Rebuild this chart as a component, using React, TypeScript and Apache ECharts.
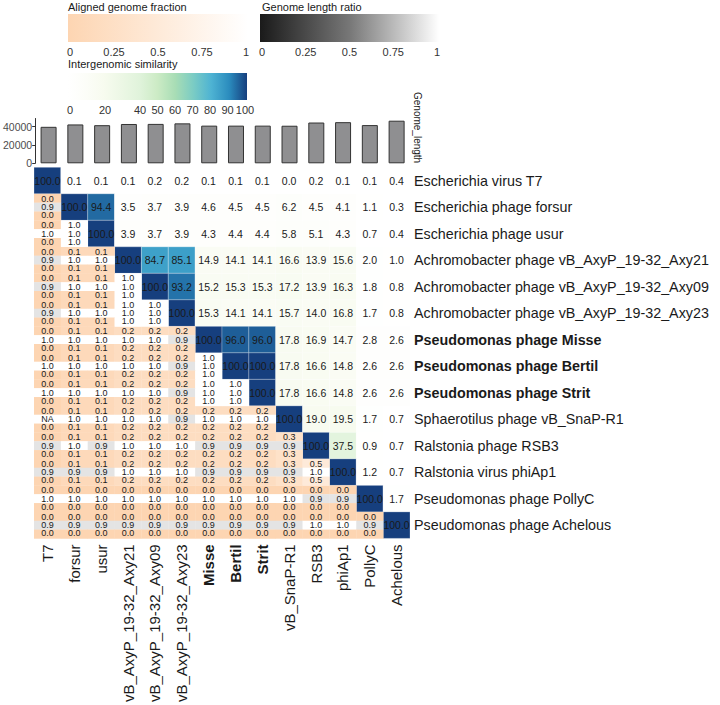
import React, { useEffect, useRef } from "react";
import * as echarts from "echarts";

const FONT = '"Liberation Sans", Arial, Helvetica, sans-serif';

const shortNames = [
  "T7", "forsur", "usur", "vB_AxyP_19-32_Axy21", "vB_AxyP_19-32_Axy09", "vB_AxyP_19-32_Axy23",
  "Misse", "Bertil", "Strit", "vB_SnaP-R1", "RSB3", "phiAp1", "PollyC", "Achelous",
];
const fullNames = [
  "Escherichia virus T7",
  "Escherichia phage forsur",
  "Escherichia phage usur",
  "Achromobacter phage vB_AxyP_19-32_Axy21",
  "Achromobacter phage vB_AxyP_19-32_Axy09",
  "Achromobacter phage vB_AxyP_19-32_Axy23",
  "Pseudomonas phage Misse",
  "Pseudomonas phage Bertil",
  "Pseudomonas phage Strit",
  "Sphaerotilus phage vB_SnaP-R1",
  "Ralstonia phage RSB3",
  "Ralstonia virus phiAp1",
  "Pseudomonas phage PollyC",
  "Pseudomonas phage Achelous",
];
const boldIndices = [6, 7, 8];

const genomeLength = [39900, 42500, 41700, 43000, 43100, 43700, 41200, 41200, 41200, 41100, 44600, 45000, 41800, 46600];

// upper triangle (incl. diagonal): row r holds columns r..13
const similarity: number[][] = [
  [100.0, 0.1, 0.1, 0.1, 0.2, 0.2, 0.1, 0.1, 0.1, 0.0, 0.2, 0.1, 0.1, 0.4],
  [100.0, 94.4, 3.5, 3.7, 3.9, 4.6, 4.5, 4.5, 6.2, 4.5, 4.1, 1.1, 0.3],
  [100.0, 3.9, 3.7, 3.9, 4.3, 4.4, 4.4, 5.8, 5.1, 4.3, 0.7, 0.4],
  [100.0, 84.7, 85.1, 14.9, 14.1, 14.1, 16.6, 13.9, 15.6, 2.0, 1.0],
  [100.0, 93.2, 15.2, 15.3, 15.3, 17.2, 13.9, 16.3, 1.8, 0.8],
  [100.0, 15.3, 14.1, 14.1, 15.7, 14.0, 16.8, 1.7, 0.8],
  [100.0, 96.0, 96.0, 17.8, 16.9, 14.7, 2.8, 2.6],
  [100.0, 100.0, 17.8, 16.6, 14.8, 2.6, 2.6],
  [100.0, 17.8, 16.6, 14.8, 2.6, 2.6],
  [100.0, 19.0, 19.5, 1.7, 0.7],
  [100.0, 37.5, 0.9, 0.7],
  [100.0, 1.2, 0.7],
  [100.0, 1.7],
  [100.0],
];

// lower triangle: row r holds columns 0..r-1
const alignedFraction: number[][] = [
  [],
  [0.0],
  [0.0, 1.0],
  [0.0, 0.1, 0.1],
  [0.0, 0.1, 0.1, 1.0],
  [0.0, 0.1, 0.1, 1.0, 1.0],
  [0.0, 0.1, 0.1, 0.2, 0.2, 0.2],
  [0.0, 0.1, 0.1, 0.2, 0.2, 0.2, 1.0],
  [0.0, 0.1, 0.1, 0.2, 0.2, 0.2, 1.0, 1.0],
  [0.0, 0.1, 0.1, 0.2, 0.2, 0.2, 0.2, 0.2, 0.2],
  [0.0, 0.1, 0.1, 0.2, 0.2, 0.2, 0.2, 0.2, 0.2, 0.3],
  [0.0, 0.1, 0.1, 0.2, 0.2, 0.2, 0.2, 0.2, 0.2, 0.3, 0.5],
  [0.0, 0.0, 0.0, 0.0, 0.0, 0.0, 0.0, 0.0, 0.0, 0.0, 0.0, 0.0],
  [0.0, 0.0, 0.0, 0.0, 0.0, 0.0, 0.0, 0.0, 0.0, 0.0, 0.0, 0.0, 0.0],
];

const lengthRatio: (number | null)[][] = [
  [],
  [0.9],
  [1.0, 1.0],
  [0.9, 1.0, 1.0],
  [0.9, 1.0, 1.0, 1.0],
  [0.9, 1.0, 1.0, 1.0, 1.0],
  [1.0, 1.0, 1.0, 1.0, 1.0, 0.9],
  [1.0, 1.0, 1.0, 1.0, 1.0, 0.9, 1.0],
  [1.0, 1.0, 1.0, 1.0, 1.0, 0.9, 1.0, 1.0],
  [null, 1.0, 1.0, 1.0, 1.0, 0.9, 1.0, 1.0, 1.0],
  [0.9, 1.0, 0.9, 1.0, 1.0, 1.0, 0.9, 0.9, 0.9, 0.9],
  [0.9, 0.9, 0.9, 1.0, 1.0, 1.0, 0.9, 0.9, 0.9, 0.9, 1.0],
  [1.0, 1.0, 1.0, 1.0, 1.0, 1.0, 1.0, 1.0, 1.0, 1.0, 0.9, 0.9],
  [0.9, 0.9, 0.9, 0.9, 0.9, 0.9, 0.9, 0.9, 0.9, 0.9, 1.0, 1.0, 0.9],
];

const fractionTicks = [0, 0.25, 0.5, 0.75, 1];
const similarityTicks = [0, 20, 40, 50, 60, 70, 80, 90, 100];

const simColors = ["#ffffff", "#fcfdf8", "#f7fbef", "#ecf7e5", "#e0f3db", "#ccebc5", "#a8ddb5", "#7bccc4", "#4eb3d3", "#2b8cbe", "#163f7e"];
const afColors = ["#fdd5b2", "#ffffff"];
const lrColors = ["#1a1a1a", "#777777", "#ffffff"];

function buildOption() {
  const upperData: number[][] = [];
  similarity.forEach((row, r) => row.forEach((v, k) => upperData.push([r + k, r, v])));

  const topData: any[] = [];
  const midData: any[] = [];
  const botData: any[] = [];
  const midLabels: string[] = [];
  alignedFraction.forEach((row, r) =>
    row.forEach((v, c) => {
      topData.push([c, r, v]);
      botData.push([c, r, v]);
      const lr = lengthRatio[r][c];
      midData.push([c, r, lr === null ? null : lr]);
      midLabels.push(lr === null ? "NA" : lr.toFixed(1));
    })
  );

  const cellText = (x: number, y: number, text: string, size: number) => ({
    type: "text",
    x,
    y,
    style: {
      text,
      fill: "#1a1a1a",
      font: `${size}px ${FONT}`,
      textAlign: "center",
      textVerticalAlign: "middle",
    },
  });

  const upperRender = (params: any, api: any) => {
    const c = api.coord([api.value(0), api.value(1)]);
    const s = api.size([1, 1]);
    const v = api.value(2);
    return {
      type: "group",
      children: [
        {
          type: "rect",
          shape: { x: c[0] - s[0] / 2, y: c[1] - s[1] / 2, width: s[0], height: s[1] },
          style: { fill: api.visual("color"), stroke: "rgba(255,255,255,0.5)", lineWidth: 0.5 },
        },
        cellText(c[0], c[1], Number(v).toFixed(1), 10.5),
      ],
    };
  };

  const stripeRender = (stripe: number, labels: string[] | null) => (params: any, api: any) => {
    const c = api.coord([api.value(0), api.value(1)]);
    const s = api.size([1, 1]);
    const h = s[1] / 3;
    const top = c[1] - s[1] / 2 + stripe * h;
    const label = labels ? labels[params.dataIndex] : Number(api.value(2)).toFixed(1);
    const fill = label === "NA" ? "#ffffff" : api.visual("color");
    return {
      type: "group",
      children: [
        {
          type: "rect",
          shape: { x: c[0] - s[0] / 2, y: top, width: s[0] + 0.3, height: h + 0.3 },
          style: { fill },
        },
        cellText(c[0], c[1] + (stripe - 1) * 8.3, label, 9),
      ],
    };
  };

  const gradientRender = (colors: string[]) => (params: any, api: any) => {
    const p0 = api.coord([api.value(0), api.value(1)]);
    const p1 = api.coord([api.value(2), api.value(3)]);
    const stops = colors.map((color, i) => ({ offset: i / (colors.length - 1), color }));
    return {
      type: "rect",
      shape: { x: p0[0] - 2, y: p1[1], width: p1[0] - p0[0] + 4, height: p0[1] - p1[1] },
      style: { fill: new echarts.graphic.LinearGradient(0, 0, 1, 0, stops) },
    };
  };

  const legendAxis = (gridIndex: number, max: number, ticks: number[]) => ({
    type: "value",
    gridIndex,
    min: 0,
    max,
    axisLine: { show: false },
    splitLine: { show: false },
    axisTick: { show: true, inside: true, length: 4, lineStyle: { color: "#ffffff", width: 1 }, customValues: ticks },
    axisLabel: { show: true, margin: 4, fontSize: 11, fontFamily: FONT, color: "#333333", customValues: ticks },
  });
  const hiddenY = (gridIndex: number) => ({
    type: "value",
    gridIndex,
    min: 0,
    max: 1,
    show: false,
  });

  const richFor = (size: number) => ({
    n: { fontSize: size, fontFamily: FONT, color: "#1a1a1a" },
    b: { fontSize: size, fontFamily: FONT, color: "#1a1a1a", fontWeight: "bold" },
  });

  return {
    animation: false,
    backgroundColor: "#ffffff",
    textStyle: { fontFamily: FONT },
    grid: [
      { left: 34, top: 167.3, width: 376, height: 374.4 },
      { left: 34, top: 118.5, width: 376, height: 44.8 },
      { left: 70, top: 14, width: 176, height: 28 },
      { left: 262, top: 14, width: 175, height: 28 },
      { left: 70, top: 73, width: 175, height: 27 },
    ],
    xAxis: [
      {
        type: "category",
        gridIndex: 0,
        data: shortNames,
        axisLine: { show: false },
        axisTick: { show: false },
        splitLine: { show: false },
        axisLabel: {
          rotate: 90,
          margin: 6,
          interval: 0,
          formatter: (v: string, i: number) => (boldIndices.includes(i) ? `{b|${v}}` : `{n|${v}}`),
          rich: richFor(15),
        },
      },
      {
        type: "category",
        gridIndex: 1,
        data: shortNames,
        axisLine: { show: false },
        axisTick: { show: false },
        axisLabel: { show: false },
      },
      legendAxis(2, 1, fractionTicks),
      legendAxis(3, 1, fractionTicks),
      legendAxis(4, 100, similarityTicks),
    ],
    yAxis: [
      {
        type: "category",
        gridIndex: 0,
        inverse: true,
        position: "right",
        data: fullNames,
        axisLine: { show: false },
        axisTick: { show: false },
        splitLine: { show: false },
        axisLabel: {
          margin: 4,
          interval: 0,
          formatter: (v: string, i: number) => (boldIndices.includes(i) ? `{b|${v}}` : `{n|${v}}`),
          rich: richFor(14.3),
        },
      },
      {
        type: "value",
        gridIndex: 1,
        min: 0,
        max: 49000,
        interval: 20000,
        axisLine: { show: true, lineStyle: { color: "#333333", width: 1 } },
        axisTick: { show: true, length: 3, lineStyle: { color: "#333333" } },
        splitLine: { show: false },
        axisLabel: {
          margin: 3,
          fontSize: 10.5,
          fontFamily: FONT,
          color: "#4d4d4d",
          formatter: (v: number) => String(v),
        },
      },
      hiddenY(2),
      hiddenY(3),
      hiddenY(4),
    ],
    visualMap: [
      { type: "continuous", show: false, seriesIndex: 1, dimension: 2, min: 0, max: 100, inRange: { color: simColors } },
      { type: "continuous", show: false, seriesIndex: [2, 4], dimension: 2, min: 0, max: 1, inRange: { color: afColors } },
      { type: "continuous", show: false, seriesIndex: 3, dimension: 2, min: 0, max: 1, inRange: { color: lrColors } },
    ],
    series: [
      {
        type: "bar",
        xAxisIndex: 1,
        yAxisIndex: 1,
        data: genomeLength,
        barWidth: 16,
        itemStyle: { color: "#8f8f91", borderColor: "#333333", borderWidth: 1 },
      },
      { type: "custom", xAxisIndex: 0, yAxisIndex: 0, data: upperData, renderItem: upperRender },
      { type: "custom", xAxisIndex: 0, yAxisIndex: 0, data: topData, renderItem: stripeRender(0, null) },
      { type: "custom", xAxisIndex: 0, yAxisIndex: 0, data: midData, renderItem: stripeRender(1, midLabels) },
      { type: "custom", xAxisIndex: 0, yAxisIndex: 0, data: botData, renderItem: stripeRender(2, null) },
      { type: "custom", xAxisIndex: 2, yAxisIndex: 2, data: [[0, 0, 1, 1]], renderItem: gradientRender(afColors), z: 1 },
      { type: "custom", xAxisIndex: 3, yAxisIndex: 3, data: [[0, 0, 1, 1]], renderItem: gradientRender(lrColors), z: 1 },
      { type: "custom", xAxisIndex: 4, yAxisIndex: 4, data: [[0, 0, 100, 1]], renderItem: gradientRender(simColors), z: 1 },
    ],
    graphic: [
      {
        type: "text",
        left: 68,
        top: 1,
        style: { text: "Aligned genome fraction", font: `11px ${FONT}`, fill: "#1a1a1a" },
      },
      {
        type: "text",
        left: 262,
        top: 1,
        style: { text: "Genome length ratio", font: `11px ${FONT}`, fill: "#1a1a1a" },
      },
      {
        type: "text",
        left: 68,
        top: 58,
        style: { text: "Intergenomic similarity", font: `11px ${FONT}`, fill: "#1a1a1a" },
      },
      {
        type: "text",
        x: 417,
        y: 92,
        rotation: -Math.PI / 2,
        style: {
          text: "Genome_length",
          font: `10px ${FONT}`,
          fill: "#1a1a1a",
          textAlign: "left",
          textVerticalAlign: "middle",
        },
      },
    ],
  };
}

export default function App() {
  const ref = useRef<HTMLDivElement>(null);
  useEffect(() => {
    if (!ref.current) return;
    const chart = echarts.init(ref.current, null, { renderer: "svg" });
    chart.setOption(buildOption() as any);
    return () => chart.dispose();
  }, []);
  return (
    <div
      ref={ref}
      style={{ position: "absolute", left: 0, top: 0, width: 720, height: 705, background: "#ffffff" }}
    />
  );
}
